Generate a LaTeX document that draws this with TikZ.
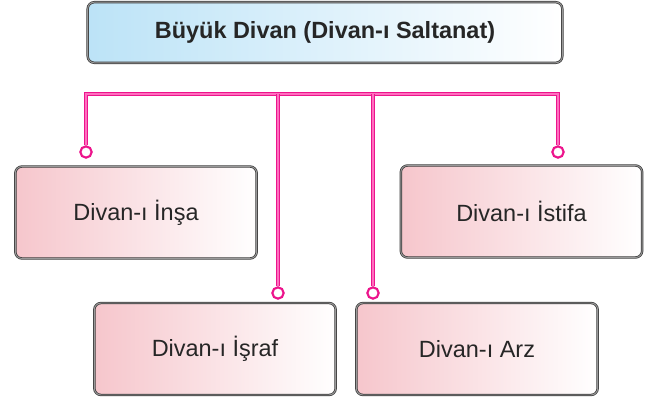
\documentclass[tikz,border=0pt]{standalone}
\usepackage{fontspec}
\setmainfont{Liberation Sans}
\definecolor{linkmag}{RGB}{236,20,140}
\definecolor{linklight}{RGB}{255,110,190}
\definecolor{boxpink}{RGB}{246,198,204}
\definecolor{boxblue}{RGB}{188,227,247}
\definecolor{boxedge}{RGB}{60,60,60}

\begin{document}
\begin{tikzpicture}[x=0.75pt,y=-0.75pt,font=\fontsize{17.6}{20}\selectfont]
\tikzstyle{divan}=[rectangle,rounded corners=5pt,draw=boxedge,line width=0.55pt,double=black!40,double distance=0.7pt,
  minimum width=181pt,minimum height=69pt,left color=boxpink,right color=white,text=black!85]
\tikzstyle{top}=[divan,left color=boxblue,right color=white,minimum width=356pt,minimum height=45.5pt,font=\fontsize{17.6}{20}\selectfont\bfseries]
\tikzstyle{dot}=[circle,draw=linkmag,line width=1.6pt,fill=white,inner sep=0pt,minimum size=8.5pt]
\tikzstyle{link}=[draw=linkmag,line width=0.6pt,double=linklight,double distance=1.2pt]

    \useasboundingbox (0,0) rectangle (657,401);

    \node[top] (buyuk) at (325,32.5){Büyük Divan (Divan-ı Saltanat)};
    \node[divan] (insa) at (136,212.5){Divan-ı İnşa};
    \node[divan] (istifa) at (521.5,211.5){Divan-ı İstifa};
    \node[divan] (israf) at (215,349){Divan-ı İşraf};
    \node[divan] (arz) at (477,349){Divan-ı Arz};

    \coordinate (bus) at (320,94);
    \node[dot] (c1) at (86,152){};
    \node[dot] (c2) at (278,293){};
    \node[dot] (c3) at (373,293){};
    \node[dot] (c4) at (558,152){};

    \draw[link] (c1.north) |- (bus) -| (c4.north);
    \draw[link] (c2.north) -- (c2.north |- bus);
    \draw[link] (c3.north) -- (c3.north |- bus);

\end{tikzpicture}
\end{document}
